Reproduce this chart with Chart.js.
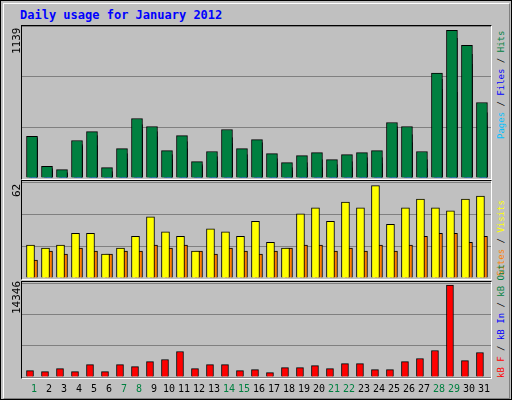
<!DOCTYPE html>
<html><head><meta charset="utf-8">
<script src="https://cdn.jsdelivr.net/npm/chart.js@4/dist/chart.umd.min.js"></script>
<style>
body{margin:0;background:#fff}
#frame{position:absolute;left:0;top:0;width:510px;height:398px;background:#c0c0c0;border:1px solid #000;overflow:hidden}
#inner{position:absolute;left:2px;top:2px;width:505px;height:394px;border-top:1px solid #fff;border-left:1px solid #fff;border-right:1px solid #808080;border-bottom:1px solid #808080}
.t{position:absolute;font-family:"DejaVu Sans Mono",monospace;white-space:nowrap}
.rot{transform-origin:0 0;transform:rotate(-90deg);font-size:9px}
.lv{font-size:11px}
.panel{position:absolute;left:20px;width:469px;box-sizing:content-box;border-left:1px solid #000;border-top:1px solid #000;border-right:1px solid #fff;border-bottom:1px solid #fff}
canvas{position:absolute}
</style></head><body>
<div id="frame"><div id="inner"></div>
<div class="t" style="left:19px;top:7px;color:#0000ff;font-weight:bold;font-size:12px">Daily usage for January 2012</div>
<div class="panel" style="top:24px;height:153px"></div>
<div class="panel" style="top:179px;height:98px"></div>
<div class="panel" style="top:280px;height:96px"></div>
<canvas id="c1" width="469" height="152" style="left:21px;top:25px"></canvas>
<canvas id="c2" width="469" height="96" style="left:21px;top:181px"></canvas>
<canvas id="c3" width="469" height="118" style="left:21px;top:282px"></canvas>
<div class="t rot lv" style="left:9px;top:53px">1139</div>
<div class="t rot lv" style="left:9px;top:196px">62</div>
<div class="t rot lv" style="left:9px;top:313px">14346</div>
<div class="t rot" style="left:495px;top:138px"><span style="color:#00c0ff">Pages</span> / <span style="color:#0000ff">Files</span> / <span style="color:#008040">Hits</span></div>
<div class="t rot" style="left:495px;top:275px"><span style="color:#ff8000">Sites</span> / <span style="color:#ffff00">Visits</span></div>
<div class="t rot" style="left:495px;top:377px"><span style="color:#ff0000">kB F</span> / <span style="color:#0000ff">kB In</span> / <span style="color:#008040">kB Out</span></div>
</div>
<script>
const days = [1,2,3,4,5,6,7,8,9,10,11,12,13,14,15,16,17,18,19,20,21,22,23,24,25,26,27,28,29,30,31];
const weekend = [1,7,8,14,15,21,22,28,29];
const hits  = [322,90,64,289,358,80,227,459,397,211,327,126,204,374,227,296,188,119,173,196,142,180,196,211,428,397,204,809,1139,1023,582];
const files = [312,72,41,258,327,49,188,412,358,180,281,103,165,312,180,273,149,80,119,142,103,126,157,157,397,335,142,760,1077,953,505];
const pages = [296,57,34,242,250,26,149,374,320,142,227,88,126,265,142,211,119,57,80,80,72,80,111,111,374,273,72,683,660,876,405];
const visits = [22,20,22,30,30,16,20,28,41,31,28,18,33,31,28,38,24,20,43,47,38,51,47,62,36,47,53,47,45,53,55];
const sites  = [12,18,16,20,18,16,18,18,22,20,22,18,16,20,18,16,18,20,22,22,18,20,18,22,18,22,28,30,30,24,28];
const kbytes = [995,838,1309,838,1937,838,1937,1623,2409,2723,3979,1309,1937,1937,995,1152,681,1466,1466,1780,1309,2094,2094,1152,1152,2409,2880,4136,14346,2566,3822];

Chart.defaults.animation = false;
Chart.defaults.font.family = 'DejaVu Sans Mono';

function pts(vals, dx) { return vals.map((v, i) => ({x: days[i] + dx, y: v})); }
function ds(vals, dx, color, w) {
  return {data: pts(vals, dx), backgroundColor: color, borderColor: '#000', borderWidth: 1,
          barThickness: w, grouped: false, borderSkipped: 'bottom'};
}
function make(id, sets, ymax, padBottom, plugins) {
  return new Chart(document.getElementById(id), {
    type: 'bar',
    data: {datasets: sets},
    options: {
      responsive: false, devicePixelRatio: 1,
      layout: {padding: {left: 0, right: 0, top: 0, bottom: padBottom}},
      plugins: {legend: {display: false}, tooltip: {enabled: false}},
      scales: {
        x: {type: 'linear', min: 0.2, max: 31.47, offset: false, display: false},
        y: {min: 0, max: ymax, display: true, border: {display: false},
            ticks: {display: false, stepSize: ymax / 3},
            grid: {color: '#808080', drawTicks: false, tickLength: 0}, afterFit: s => { s.width = 0; }}
      }
    },
    plugins: plugins || []
  });
}
make('c1', [ds(hits, -2/15, '#008040', 11), ds(files, -1/15, '#0000ff', 9), ds(pages, 0, '#00c0ff', 7)], 1172, 0);
make('c2', [ds(visits, -3.5/15, '#ffff00', 8), ds(sites, 0, '#ff8000', 7)], 64.4, 0);
const dayLabels = {
  id: 'dayLabels',
  afterDraw(chart) {
    const ctx = chart.ctx, xs = chart.scales.x;
    ctx.save();
    ctx.font = '10px "DejaVu Sans Mono"';
    ctx.textAlign = 'center';
    ctx.textBaseline = 'middle';
    days.forEach(d => {
      ctx.fillStyle = weekend.includes(d) ? '#008040' : '#000';
      ctx.fillText(String(d), xs.getPixelForValue(d), chart.chartArea.bottom + 12);
    });
    ctx.restore();
  }
};
make('c3', [ds(kbytes, -4/15, '#ff0000', 7)], 14660, 24, [dayLabels]);
</script>
</body></html>
